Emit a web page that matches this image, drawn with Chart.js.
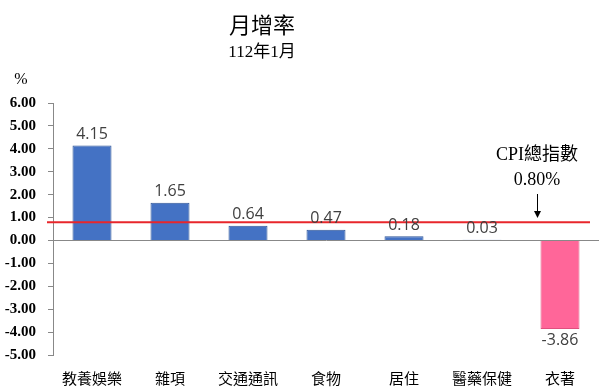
<!DOCTYPE html>
<html>
<head>
<meta charset="utf-8">
<script src="https://cdn.jsdelivr.net/npm/chart.js@4"></script>
<style>
  html, body { margin: 0; padding: 0; background: #fff; }
  #wrap { width: 600px; height: 392px; }
</style>
</head>
<body>
<div id="wrap"><canvas id="cpi-chart"></canvas></div>
<script>
// categories and values
const categories = ['教養娛樂', '雜項', '交通通訊', '食物', '居住', '醫藥保健', '衣著'];
const monthlyRate = [4.15, 1.65, 0.64, 0.47, 0.18, 0.03, -3.86];
const cpiTotal = 0.80;
const yTicks = [6, 5, 4, 3, 2, 1, 0, -1, -2, -3, -4, -5];

const serif = '"Liberation Serif", "Times New Roman", "Noto Sans CJK TC", serif';
const cjk = '"Noto Sans CJK TC", "Liberation Serif", serif';

// titles, % unit, cpi line + note, value labels
const extras = {
  id: 'extras',
  afterDatasetsDraw(chart) {
    const ctx = chart.ctx;
    const area = chart.chartArea;
    const y = chart.scales.y;
    const meta = chart.getDatasetMeta(0);
    ctx.save();

    // title
    ctx.fillStyle = '#000';
    ctx.textAlign = 'center';
    ctx.textBaseline = 'middle';
    ctx.font = '22px ' + cjk;
    ctx.fillText('月增率', 262, 25);
    ctx.font = '17px ' + serif;
    ctx.fillText('112年1月', 262, 53);

    ctx.font = '16px ' + serif;
    ctx.fillText('%', 21, 80);

    // cpi line
    const cy = y.getPixelForValue(cpiTotal);
    ctx.strokeStyle = '#E8262B';
    ctx.lineWidth = 2;
    ctx.beginPath();
    ctx.moveTo(area.left - 6, cy);
    ctx.lineTo(area.right - 9, cy);
    ctx.stroke();

    // note
    ctx.fillStyle = '#000';
    ctx.font = '18px ' + serif;
    ctx.fillText('CPI總指數', 537, 155);
    ctx.fillText(cpiTotal.toFixed(2) + '%', 537, 180);
    ctx.strokeStyle = '#000';
    ctx.lineWidth = 1;
    ctx.beginPath();
    ctx.moveTo(537.5, 194);
    ctx.lineTo(537.5, 215);
    ctx.stroke();
    ctx.beginPath();
    ctx.moveTo(534, 211);
    ctx.lineTo(537.5, 218);
    ctx.lineTo(541, 211);
    ctx.closePath();
    ctx.fill();

    // value labels
    ctx.fillStyle = '#404040';
    ctx.font = '16px "Open Sans", "Liberation Sans", sans-serif';
    meta.data.forEach(function(bar, i) {
      const v = monthlyRate[i];
      if (v >= 0) {
        ctx.textBaseline = 'bottom';
        ctx.fillText(v.toFixed(2), bar.x, bar.y - 3);
      } else {
        ctx.textBaseline = 'top';
        ctx.fillText(v.toFixed(2), bar.x, bar.y + 4);
      }
    });
    ctx.restore();
  }
};

const data = {
  labels: categories,
  datasets: [{
    data: monthlyRate,
    backgroundColor: monthlyRate.map(v => v < 0 ? '#FF6699' : '#4472C4'),
    borderColor: monthlyRate.map(v => v < 0 ? '#E0507F' : '#2F5597'),
    borderWidth: 1,
    categoryPercentage: 1,
    barPercentage: 0.5
  }]
};

const config = {
  type: 'bar',
  data: data,
  options: {
    responsive: true,
    maintainAspectRatio: false,
    animation: false,
    layout: { padding: { top: 103, right: 1, bottom: 0, left: 0 } },
    plugins: {
      legend: { display: false },
      title: { display: false },
      tooltip: { enabled: false }
    },
    scales: {
      x: {
        grid: { display: false },
        border: { display: false },
        ticks: {
          color: '#000',
          padding: 6,
          maxRotation: 0,
          font: { family: cjk, size: 15 }
        },
        afterFit: function(scale) { scale.height = 37; }
      },
      y: {
        min: -5,
        max: 6,
        afterBuildTicks: function(scale) {
          scale.ticks = yTicks.map(v => ({ value: v }));
        },
        afterFit: function(scale) { scale.width = 53; },
        border: { display: true, color: '#888', width: 1 },
        grid: {
          drawOnChartArea: true,
          color: ctx => ctx.tick && ctx.tick.value === 0 ? '#888' : 'rgba(0,0,0,0)',
          tickColor: '#888',
          tickLength: 5
        },
        ticks: {
          color: '#000',
          padding: 12,
          font: { family: serif, size: 15, weight: 'bold' },
          callback: v => Number(v).toFixed(2)
        }
      }
    }
  },
  plugins: [extras]
};

new Chart(document.getElementById('cpi-chart'), config);
</script>
</body>
</html>
